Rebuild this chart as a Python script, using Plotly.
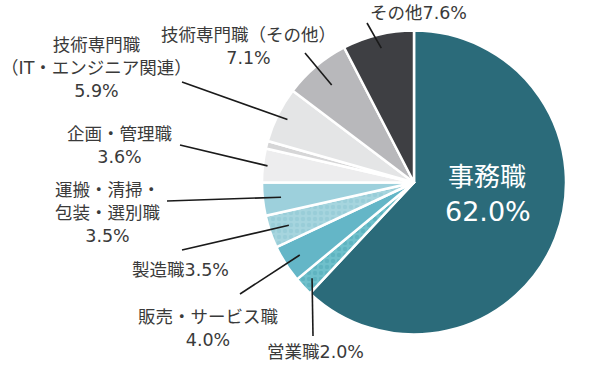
import math
import plotly.graph_objects as go

# ---------------- data ----------------
categories = ["事務職", "営業職", "販売・サービス職", "製造職", "運搬・清掃・包装・選別職",
              "企画・管理職", "無回答", "技術専門職（IT・エンジニア関連）",
              "技術専門職（その他）", "その他"]
shares = [62.0, 2.0, 4.0, 3.5, 3.5, 3.6, 0.8, 5.9, 7.1, 7.6]
# label text as shown on the chart (None = not labelled / labelled inside)
label_names = [None, "営業職", "販売・サービス職", "製造職", "運搬・清掃・<br>包装・選別職",
               "企画・管理職", None, "技術専門職<br>（IT・エンジニア関連）",
               "技術専門職（その他）", "その他"]

# ---------------- style ----------------
W, H = 600, 368
colors = ["#2b6b7a", "#6fc0cb", "#64b6c7", "#a6d5de", "#9dd0dc",
          "#ededee", "#d6d6d7", "#e4e5e6", "#b8b8bb", "#3e3f43"]
pattern_shapes = ["", ".", "", ".", "", "", "", "", "", ""]
pattern_fg = ["#2b6b7a", "#4fa8b5", "#64b6c7", "#8cc6d1", "#9dd0dc",
              "#ededee", "#d6d6d7", "#e4e5e6", "#b8b8bb", "#3e3f43"]
label_sep = ["", "", "<br>", "", "<br>", "<br>", "", "<br>", "<br>", ""]
label_pos = {1: (315, 352), 2: (208, 328), 3: (180, 270), 4: (107, 213),
             5: (119, 145), 7: (96, 68), 8: (248, 46), 9: (418, 13)}
leader_start = {1: (313, 336), 2: (240, 294), 3: (182, 250), 4: (167, 201),
                5: (180, 145), 7: (182, 82), 8: (305, 53), 9: (367, 23)}
tip_frac = {1: 0.92, 2: 0.89, 3: 0.87, 4: 0.88, 5: 0.97, 7: 0.93, 8: 0.84, 9: 0.91}

CX, CY, R = 414, 182.5, 152
dom_x = [(CX - R) / W, (CX + R) / W]
dom_y = [1 - (CY + R) / H, 1 - (CY - R) / H]

FONT = "DejaVu Sans, Noto Sans CJK JP, sans-serif"
TXT = "#3a3a3a"

fig = go.Figure(go.Pie(
    labels=categories, values=shares, sort=False, direction="clockwise",
    rotation=0, textinfo="none", hole=0, domain=dict(x=dom_x, y=dom_y),
    marker=dict(colors=colors, line=dict(color="white", width=2.5),
                pattern=dict(shape=pattern_shapes, fgcolor=pattern_fg, bgcolor=colors,
                             fillmode="overlay", size=6, solidity=0.45)),
    showlegend=False, hoverinfo="label+percent"))

def px2paper(x, y):
    return x / W, 1 - y / H

shapes, annotations = [], []
total = sum(shares)
cum = 0.0
for i, v in enumerate(shares):
    mid = (cum + v / 2) / total * 2 * math.pi
    cum += v
    if i not in label_pos:
        continue
    tx = CX + tip_frac[i] * R * math.sin(mid)
    ty = CY - tip_frac[i] * R * math.cos(mid)
    sx, sy = leader_start[i]
    x0, y0 = px2paper(sx, sy)
    x1, y1 = px2paper(tx, ty)
    shapes.append(dict(type="line", xref="paper", yref="paper", x0=x0, y0=y0, x1=x1, y1=y1,
                       line=dict(color="#1a1a1a", width=1.6)))
    lx, ly = px2paper(*label_pos[i])
    annotations.append(dict(xref="paper", yref="paper", x=lx, y=ly, showarrow=False,
                            xanchor="center", yanchor="middle",
                            text=f"{label_names[i]}{label_sep[i]}{v:.1f}%",
                            font=dict(family=FONT, size=17.5, color=TXT)))

# inside label for the largest slice
ix, iy = px2paper(487, 177)
annotations.append(dict(xref="paper", yref="paper", x=ix, y=iy, showarrow=False,
                        xanchor="center", yanchor="middle",
                        text=categories[0], font=dict(family=FONT, size=26, color="white")))
ix, iy = px2paper(488, 211)
annotations.append(dict(xref="paper", yref="paper", x=ix, y=iy, showarrow=False,
                        xanchor="center", yanchor="middle",
                        text=f"{shares[0]:.1f}%", font=dict(family=FONT, size=27, color="white")))

fig.update_layout(width=W, height=H, margin=dict(l=0, r=0, t=0, b=0),
                  paper_bgcolor="white", plot_bgcolor="white",
                  shapes=shapes, annotations=annotations)
fig.write_html("out.html", config={"displayModeBar": False},
               post_script="document.body.style.margin='0';document.body.style.padding='0';")
